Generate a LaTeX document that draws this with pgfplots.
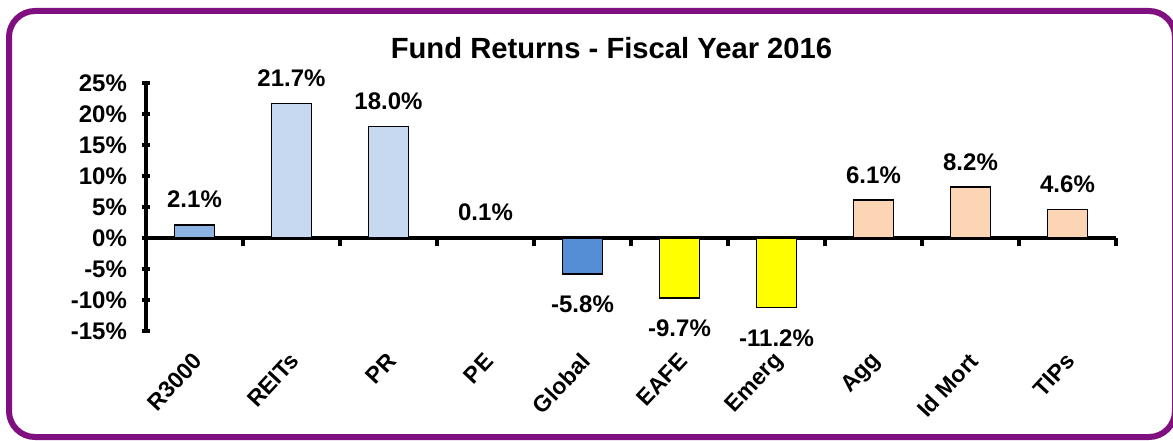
\documentclass[border=0pt]{standalone}
\usepackage{pgfplots}
\pgfplotsset{compat=1.18}
\usepackage{fontspec}
\setmainfont{Liberation Sans}
\definecolor{framec}{RGB}{128,16,128}
\definecolor{cR}{HTML}{8DB3E2}
\definecolor{cL}{HTML}{C6D9F1}
\definecolor{cG}{HTML}{558ED5}
\definecolor{cY}{HTML}{FFFF00}
\definecolor{cP}{HTML}{FCD5B5}
\pgfplotsset{
  posl/.style={every node near coord/.append style={anchor=south, inner ysep=0pt, yshift=8pt}},
  negl/.style={every node near coord/.append style={anchor=north, inner ysep=0pt, yshift=-10.5pt}},
}
\begin{document}
\begin{tikzpicture}
\useasboundingbox (0,0) rectangle (586.5pt,220pt);
\draw[framec, line width=3pt, rounded corners=13pt] (4.5pt,1.5pt) rectangle (587.5pt,214.5pt);
\node[font=\bfseries\fontsize{14.6}{17}\selectfont] at (305.75pt,196pt) {Fund Returns - Fiscal Year 2016};
\begin{axis}[
  at={(73pt,54.5pt)}, anchor=south west,
  width=485pt, height=124pt, scale only axis,
  xmin=0.5, xmax=10.5, ymin=-15, ymax=25,
  axis x line=middle, axis y line=left,
  axis line style={-, line width=2pt, black},
  clip=false,
  ytick={-15,-10,...,25},
  yticklabels={-15\%,-10\%,-5\%,0\%,5\%,10\%,15\%,20\%,25\%},
  xtick={1.5,2.5,...,10.5},
  xticklabels={},
  extra x ticks={1,...,10},
  extra x tick labels={R3000,REITs,PR,PE,Global,EAFE,Emerg,Agg,Id Mort,TIPs},
  extra x tick style={major tick length=0pt},
  tick align=center,
  major tick length=4pt,
  tick style={line width=2pt, black},
  yticklabel style={font=\bfseries\fontsize{12}{14}\selectfont, xshift=-4pt},
  xticklabel style={font=\bfseries\fontsize{11.5}{14}\selectfont, yshift=-57pt, xshift=4pt, rotate=47, anchor=east},
  ybar, bar width=20pt,
  every node near coord/.append style={font=\bfseries\fontsize{12}{14}\selectfont},
]
\addplot[fill=cR, draw=black, line width=0.8pt, bar shift=0pt, point meta=explicit symbolic, nodes near coords, posl] coordinates {(1,2.1) [2.1\%]};
\addplot[fill=cL, draw=black, line width=0.8pt, bar shift=0pt, point meta=explicit symbolic, nodes near coords, posl] coordinates {(2,21.7) [21.7\%] (3,18.0) [18.0\%] (4,0.1) [0.1\%]};
\addplot[fill=cG, draw=black, line width=0.8pt, bar shift=0pt, point meta=explicit symbolic, nodes near coords, negl] coordinates {(5,-5.8) [-5.8\%]};
\addplot[fill=cY, draw=black, line width=0.8pt, bar shift=0pt, point meta=explicit symbolic, nodes near coords, negl] coordinates {(6,-9.7) [-9.7\%] (7,-11.2) [-11.2\%]};
\addplot[fill=cP, draw=black, line width=0.8pt, bar shift=0pt, point meta=explicit symbolic, nodes near coords, posl] coordinates {(8,6.1) [6.1\%] (9,8.2) [8.2\%] (10,4.6) [4.6\%]};
\end{axis}
\end{tikzpicture}
\end{document}
